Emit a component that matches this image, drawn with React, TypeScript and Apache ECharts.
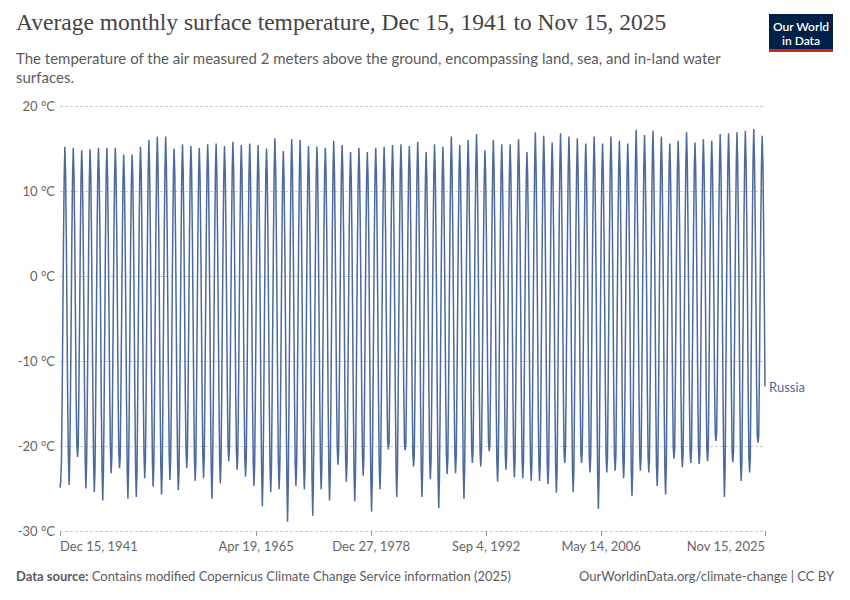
import React, { useEffect, useRef } from "react";
import * as echarts from "echarts";

const seriesName = "Russia";

// Monthly values, °C. Dec 1941 then calendar years Jan..Dec
const dec1941 = [-24.9];
const temps1940s = [
  -24.2, -21.8, -15.6, -5.8, 3.9, 11.6, 15.2, 12.1, 4.8, -4.6, -14.9, -21.3, // 1942
  -24.6, -20.9, -14.2, -4.9, 4.6, 12.0, 15.1, 11.8, 5.1, -3.9, -13.8, -19.6, // 1943
  -21.3, -20.1, -13.5, -5.2, 4.1, 11.4, 14.8, 12.3, 5.4, -3.2, -13.1, -21.7, // 1944
  -25.0, -21.9, -15.1, -5.6, 3.8, 11.7, 14.9, 11.9, 4.6, -4.8, -14.4, -22.0, // 1945
  -25.4, -22.6, -14.8, -4.7, 4.9, 12.2, 15.1, 12.0, 5.0, -4.1, -15.2, -22.5, // 1946
  -26.4, -23.1, -16.0, -5.9, 4.2, 11.9, 15.1, 11.7, 4.5, -4.4, -13.6, -20.2, // 1947
  -23.2, -21.5, -14.6, -4.8, 4.5, 11.8, 15.1, 12.2, 5.3, -3.7, -14.1, -20.8, // 1948
  -22.6, -21.2, -13.9, -5.4, 3.7, 11.2, 14.3, 11.5, 4.7, -4.2, -14.7, -22.9, // 1949
];
const temps1950s = [
  -26.2, -22.4, -15.3, -5.1, 4.0, 11.3, 14.3, 11.8, 4.9, -4.5, -15.0, -22.7,
  -26.0, -22.8, -14.7, -4.6, 4.7, 12.1, 15.2, 12.4, 5.2, -3.8, -13.9, -21.1,
  -23.8, -21.7, -14.4, -4.3, 5.1, 12.6, 16.0, 12.8, 5.6, -3.5, -14.3, -21.8,
  -24.8, -22.1, -15.0, -4.5, 5.3, 12.9, 16.4, 13.0, 5.5, -3.9, -14.6, -22.3,
  -25.7, -23.0, -14.9, -4.2, 5.4, 12.8, 16.4, 12.9, 5.9, -3.4, -13.7, -21.0,
  -24.0, -21.6, -15.4, -5.5, 4.3, 11.8, 15.0, 12.1, 4.8, -4.3, -14.8, -22.1,
  -25.2, -22.9, -15.7, -5.3, 4.6, 12.3, 15.5, 12.2, 5.1, -4.0, -14.2, -20.4,
  -22.6, -20.8, -13.8, -4.4, 4.8, 12.1, 15.3, 12.5, 5.4, -3.6, -13.5, -21.2,
  -24.1, -21.9, -14.5, -4.9, 4.4, 11.9, 15.1, 12.0, 4.9, -4.2, -14.0, -20.9,
  -23.8, -21.4, -14.1, -4.6, 4.9, 12.4, 15.5, 12.6, 5.3, -3.7, -14.5, -22.6,
];
const temps1960s = [
  -26.2, -22.7, -15.2, -5.0, 4.7, 12.2, 15.6, 12.3, 5.2, -4.1, -13.9, -21.5,
  -24.4, -21.8, -14.3, -4.4, 4.8, 12.0, 15.3, 12.4, 5.5, -3.5, -13.2, -19.9,
  -21.8, -20.3, -13.6, -4.1, 5.0, 12.5, 15.8, 12.7, 5.6, -3.3, -13.8, -20.7,
  -22.8, -21.0, -14.0, -4.7, 4.5, 12.1, 15.4, 12.3, 5.1, -3.8, -14.1, -21.4,
  -23.6, -21.6, -14.7, -4.9, 4.8, 12.3, 15.6, 12.5, 5.2, -4.0, -14.6, -21.9,
  -24.7, -22.2, -15.1, -5.2, 4.4, 12.0, 15.4, 12.2, 5.0, -4.3, -15.1, -23.0,
  -27.1, -23.4, -15.6, -5.4, 4.2, 11.8, 15.0, 11.9, 4.7, -4.6, -14.9, -22.4,
  -25.4, -22.8, -14.9, -4.5, 5.0, 12.7, 16.2, 12.9, 5.6, -3.6, -14.4, -22.2,
  -25.1, -22.5, -15.3, -5.6, 4.1, 11.5, 14.7, 11.6, 4.6, -4.7, -15.3, -23.6,
  -28.9, -24.6, -16.2, -5.8, 4.3, 12.6, 16.1, 12.8, 5.3, -3.9, -14.8, -22.3,
];
const temps1970s = [
  -24.7, -22.3, -14.8, -4.6, 4.9, 12.5, 16.0, 12.6, 5.4, -4.1, -14.7, -22.2,
  -25.1, -22.6, -14.6, -4.8, 4.6, 12.0, 15.3, 12.1, 5.0, -4.4, -15.5, -23.8,
  -28.2, -24.1, -15.8, -5.5, 4.2, 11.9, 15.2, 12.4, 4.8, -4.5, -14.3, -22.0,
  -25.1, -22.4, -14.5, -4.4, 4.7, 12.2, 15.1, 12.2, 5.1, -4.0, -15.0, -22.9,
  -26.4, -23.2, -15.0, -4.9, 4.9, 12.4, 15.9, 12.6, 5.5, -3.7, -13.6, -20.1,
  -22.2, -20.6, -13.4, -3.9, 5.2, 12.3, 15.4, 12.4, 5.6, -3.4, -14.2, -21.6,
  -24.2, -22.0, -14.9, -5.1, 4.1, 11.4, 14.6, 11.6, 4.7, -4.6, -15.1, -23.1,
  -26.5, -23.3, -15.4, -5.0, 4.5, 11.8, 15.1, 12.0, 5.0, -4.1, -13.9, -21.0,
  -23.5, -21.4, -14.6, -4.8, 4.3, 11.5, 14.6, 11.8, 4.9, -4.4, -15.4, -23.9,
  -27.7, -23.9, -15.5, -5.3, 4.6, 11.9, 15.1, 12.1, 5.0, -4.3, -14.6, -22.3,
];
const temps1980s = [
  -25.1, -22.6, -14.8, -4.7, 4.8, 12.1, 15.2, 12.3, 5.3, -3.9, -13.4, -19.4,
  -20.4, -19.6, -13.1, -4.0, 5.1, 12.3, 15.4, 12.5, 5.6, -3.5, -14.5, -22.6,
  -26.0, -22.7, -14.7, -4.5, 4.7, 12.2, 15.5, 12.4, 5.2, -3.8, -13.3, -19.6,
  -20.5, -19.8, -13.0, -3.8, 5.3, 12.4, 15.3, 12.6, 5.7, -3.2, -13.7, -20.8,
  -22.4, -21.1, -14.2, -4.3, 5.0, 12.5, 15.8, 12.7, 5.4, -3.6, -14.9, -22.9,
  -26.0, -22.9, -15.3, -5.2, 4.2, 11.6, 14.6, 11.7, 4.8, -4.5, -14.4, -21.7,
  -23.9, -21.7, -14.4, -4.4, 4.8, 12.2, 15.5, 12.3, 5.1, -3.9, -15.2, -23.6,
  -27.3, -23.7, -15.7, -5.5, 4.3, 11.9, 15.2, 12.0, 4.9, -4.3, -14.0, -21.2,
  -23.3, -21.5, -14.1, -4.2, 5.2, 12.9, 16.4, 12.8, 5.8, -3.4, -13.9, -21.1,
  -23.2, -21.0, -13.6, -3.9, 5.1, 12.2, 15.4, 12.5, 5.7, -3.1, -14.6, -22.8,
];
const temps1990s = [
  -26.2, -22.6, -14.3, -4.1, 5.0, 12.6, 16.0, 12.7, 5.5, -3.5, -13.2, -20.2,
  -22.0, -20.6, -13.3, -3.6, 5.6, 13.1, 16.7, 13.2, 6.0, -2.9, -13.6, -20.6,
  -22.4, -20.8, -13.8, -4.5, 4.4, 11.6, 14.8, 11.9, 5.1, -3.8, -13.0, -19.5,
  -20.6, -19.8, -13.2, -3.7, 5.3, 12.5, 16.0, 12.6, 5.6, -3.3, -14.3, -21.8,
  -24.2, -21.9, -14.5, -4.3, 4.9, 12.1, 15.5, 12.3, 5.4, -3.6, -13.8, -21.0,
  -22.8, -21.0, -13.7, -3.9, 5.2, 12.3, 15.5, 12.4, 5.6, -3.2, -14.1, -21.5,
  -23.7, -21.6, -14.0, -4.0, 5.4, 12.7, 16.1, 12.9, 5.8, -3.0, -14.4, -21.6,
  -23.8, -21.8, -14.2, -4.6, 4.6, 11.5, 14.6, 11.8, 5.0, -3.9, -14.2, -21.9,
  -24.1, -22.0, -14.6, -4.3, 5.3, 13.0, 16.9, 13.1, 5.9, -3.3, -14.8, -21.9,
  -24.1, -21.9, -14.1, -3.8, 5.5, 12.9, 16.5, 13.0, 5.8, -3.2, -14.6, -22.1,
];
const temps2000s = [
  -24.5, -22.3, -14.4, -4.0, 5.1, 12.3, 15.7, 12.6, 5.5, -3.5, -15.1, -22.6,
  -25.5, -22.8, -14.8, -4.2, 5.4, 13.1, 16.8, 13.0, 5.9, -3.1, -13.7, -20.8,
  -22.0, -20.4, -13.1, -3.5, 5.6, 12.9, 16.4, 12.8, 5.7, -3.4, -14.9, -22.7,
  -25.4, -22.7, -14.6, -4.1, 5.3, 12.7, 16.2, 12.7, 5.6, -3.3, -13.5, -20.9,
  -22.0, -20.5, -13.4, -3.8, 5.0, 12.2, 15.6, 12.5, 5.4, -3.2, -13.9, -21.3,
  -23.1, -21.3, -13.9, -3.7, 5.5, 12.8, 16.4, 12.8, 5.9, -2.9, -14.8, -23.5,
  -27.4, -23.6, -15.0, -4.4, 5.2, 12.4, 15.6, 12.6, 5.6, -3.4, -13.6, -20.9,
  -23.1, -21.4, -13.2, -3.5, 5.7, 13.0, 16.4, 13.0, 6.0, -2.8, -13.9, -21.2,
  -22.9, -21.2, -13.0, -3.4, 5.4, 12.6, 15.9, 12.8, 5.8, -2.7, -14.1, -21.6,
  -23.8, -21.7, -13.9, -3.9, 5.3, 12.3, 15.6, 12.5, 5.7, -3.1, -14.7, -22.8,
];
const temps2010s = [
  -25.9, -22.8, -14.2, -3.6, 5.9, 13.6, 17.2, 13.4, 6.1, -3.0, -13.5, -21.0,
  -22.9, -21.3, -13.6, -3.7, 5.6, 13.2, 16.6, 13.1, 6.0, -2.6, -13.8, -21.1,
  -23.1, -21.5, -13.3, -3.2, 5.9, 13.5, 17.1, 13.3, 6.2, -2.9, -14.6, -22.4,
  -24.7, -22.1, -14.1, -3.5, 6.0, 13.1, 16.4, 13.0, 5.8, -3.2, -14.9, -22.9,
  -25.7, -22.6, -13.5, -3.3, 5.5, 12.4, 15.6, 12.8, 5.7, -3.5, -13.4, -20.2,
  -21.5, -20.3, -12.6, -3.0, 5.8, 12.8, 15.9, 12.9, 6.1, -2.7, -13.7, -20.9,
  -22.5, -20.9, -13.0, -3.1, 6.1, 13.4, 16.9, 13.4, 6.0, -2.8, -13.8, -20.8,
  -22.0, -20.5, -12.7, -3.4, 5.3, 12.5, 15.7, 12.9, 5.9, -2.9, -13.2, -20.5,
  -22.1, -20.8, -13.1, -3.0, 5.8, 12.8, 16.1, 13.0, 6.2, -2.5, -13.6, -20.6,
  -21.8, -20.2, -12.4, -2.8, 5.9, 12.7, 15.9, 12.9, 6.0, -2.6, -12.9, -18.6,
];
const temps2020s = [
  -19.4, -18.3, -11.6, -2.5, 6.2, 13.2, 16.7, 13.3, 6.4, -2.2, -13.5, -21.4,
  -26.0, -22.9, -13.2, -2.9, 6.0, 13.4, 16.8, 13.2, 6.1, -2.7, -13.4, -20.7,
  -21.9, -20.6, -12.8, -3.1, 5.7, 13.1, 16.9, 13.5, 6.3, -2.4, -14.0, -21.8,
  -24.1, -21.9, -13.1, -2.7, 6.1, 13.5, 17.1, 13.6, 6.5, -2.3, -13.6, -21.2,
  -23.1, -21.3, -12.9, -2.6, 6.3, 13.8, 17.3, 13.7, 6.6, -2.1, -12.8, -18.9,
  -19.6, -18.8, -11.9, -2.4, 6.0, 13.3, 16.5, 13.4, 6.2, -2.5, -13.0,
];

const tickDates = [
  [1941, 11, 15],
  [1965, 3, 19],
  [1978, 11, 27],
  [1992, 8, 4],
  [2006, 4, 14],
  [2025, 10, 15],
];
const tickLabels = [
  "Dec 15, 1941",
  "Apr 19, 1965",
  "Dec 27, 1978",
  "Sep 4, 1992",
  "May 14, 2006",
  "Nov 15, 2025",
];
const yMin = -30;
const yMax = 20;
const yStep = 10;

const TITLE = "Average monthly surface temperature, Dec 15, 1941 to Nov 15, 2025";
const SUB1 = "The temperature of the air measured 2 meters above the ground, encompassing land, sea, and in-land water";
const SUB2 = "surfaces.";

export default function App() {
  const ref = useRef<HTMLDivElement>(null);
  useEffect(() => {
    if (!ref.current) return;
    const chart = echarts.init(ref.current, null, { renderer: "svg" });
    const values = [
      ...dec1941,
      ...temps1940s,
      ...temps1950s,
      ...temps1960s,
      ...temps1970s,
      ...temps1980s,
      ...temps1990s,
      ...temps2000s,
      ...temps2010s,
      ...temps2020s,
    ];
    const data = values.map((v, i) => [Date.UTC(1941, 11 + i, 15), v]);
    const tickTs = tickDates.map((d) => Date.UTC(d[0], d[1], d[2]));
    const labelFor = (v: number) => {
      let best = 0;
      for (let i = 0; i < tickTs.length; i++) {
        if (Math.abs(tickTs[i] - v) < Math.abs(tickTs[best] - v)) best = i;
      }
      return tickLabels[best];
    };
    const font = "Lato";
    chart.setOption({
      animation: false,
      backgroundColor: "#ffffff",
      grid: { left: 60, right: 85, top: 106, bottom: 69, containLabel: false },
      xAxis: {
        type: "value",
        min: tickTs[0],
        max: tickTs[tickTs.length - 1],
        axisLine: { show: false, onZero: false },
        splitLine: { show: false },
        axisTick: {
          show: true,
          customValues: tickTs,
          length: 5,
          lineStyle: { color: "#999999", width: 1 },
        },
        axisLabel: {
          customValues: tickTs,
          formatter: (v: number) => labelFor(v),
          color: "#666666",
          fontSize: 13,
          fontFamily: font,
          margin: 8,
          alignMinLabel: "left",
          alignMaxLabel: "right",
        },
      },
      yAxis: {
        type: "value",
        min: yMin,
        max: yMax,
        interval: yStep,
        axisLine: { show: false },
        axisTick: { show: false },
        axisLabel: {
          formatter: "{value} °C",
          color: "#666666",
          fontSize: 13,
          fontFamily: font,
          margin: 5,
        },
        splitLine: { lineStyle: { color: "#cccccc", type: [3, 2], width: 1 } },
      },
      series: [
        {
          name: seriesName,
          type: "line",
          data,
          showSymbol: false,
          symbol: "none",
          lineStyle: { color: "#4C6A9C", width: 1.5 },
          itemStyle: { color: "#4C6A9C" },
          endLabel: {
            show: true,
            formatter: seriesName,
            color: "#4C6A9C",
            fontSize: 13,
            fontFamily: font,
            distance: 4,
          },
          emphasis: { disabled: true },
        },
      ],
      graphic: [
        {
          type: "text",
          left: 16,
          top: 10,
          style: {
            text: TITLE,
            font: "23.5px 'Liberation Serif'",
            fill: "#444444",
          },
        },
        {
          type: "text",
          left: 16,
          top: 48,
          style: {
            text: SUB1 + "\n" + SUB2,
            font: "15px Lato",
            lineHeight: 19,
            fill: "#5b5b5b",
          },
        },
        {
          type: "group",
          left: 769,
          top: 14,
          children: [
            { type: "rect", shape: { x: 0, y: 0, width: 64, height: 35 }, style: { fill: "#002147" } },
            { type: "rect", shape: { x: 0, y: 35, width: 64, height: 3 }, style: { fill: "#ce261e" } },
            {
              type: "text",
              x: 32,
              y: 12,
              style: {
                text: "Our World",
                font: "600 12px Lato",
                fill: "#ffffff",
                align: "center",
                verticalAlign: "middle",
              },
            },
            {
              type: "text",
              x: 32,
              y: 26,
              style: {
                text: "in Data",
                font: "600 12px Lato",
                fill: "#ffffff",
                align: "center",
                verticalAlign: "middle",
              },
            },
          ],
        },
        {
          type: "text",
          left: 16,
          top: 569,
          style: {
            text: "{b|Data source:} Contains modified Copernicus Climate Change Service information (2025)",
            font: "13px Lato",
            fill: "#5b5b5b",
            rich: {
              b: { fontWeight: "bold", fontFamily: "Lato", fontSize: 13, fill: "#5b5b5b" },
            },
          },
        },
        {
          type: "text",
          right: 16,
          top: 569,
          style: {
            text: "OurWorldinData.org/climate-change | CC BY",
            font: "13px Lato",
            fill: "#5b5b5b",
          },
        },
      ],
    });
    return () => chart.dispose();
  }, []);
  return (
    <div
      ref={ref}
      style={{ position: "absolute", left: 0, top: 0, width: 850, height: 600 }}
    />
  );
}
